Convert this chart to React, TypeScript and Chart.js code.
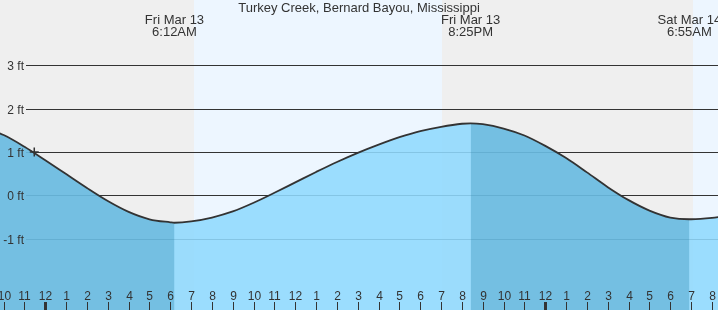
import React, { useEffect, useRef } from 'react';
import { Chart, registerables } from 'chart.js';

Chart.register(...registerables);

// Hours counted from Fri Mar 13, 00:00 (negative = Thu Mar 12 evening)
const tideHours = [-3, -2, -1, 0, 1, 2, 3, 4, 5, 6, 6.2, 7, 8, 9, 10, 11, 12, 13, 14, 15, 16, 17, 18, 19, 20, 20.417, 21, 22, 23, 24, 25, 26, 27, 28, 29, 30, 30.917, 31, 32, 33];
const tideFeet = [1.57, 1.39, 1.12, 0.81, 0.49, 0.17, -0.13, -0.38, -0.55, -0.62, -0.63, -0.6, -0.51, -0.37, -0.17, 0.06, 0.3, 0.54, 0.77, 0.98, 1.17, 1.34, 1.48, 1.58, 1.65, 1.66, 1.64, 1.54, 1.38, 1.14, 0.86, 0.53, 0.19, -0.11, -0.35, -0.51, -0.55, -0.55, -0.52, -0.45];

const extremeHours = [6.2, 20.417, 30.917];
const extremeDays = ['Fri Mar 13', 'Fri Mar 13', 'Sat Mar 14'];
const extremeTimes = ['6:12AM', '8:25PM', '6:55AM'];

const nowHour = [-0.53];
const nowFeet = [1.0];

const nightStart = [-3, 19.05];
const nightEnd = [7.13, 31.1];

const feetTicks = [-1, 0, 1, 2, 3];
const feetLabels = ['-1 ft', '0 ft', '1 ft', '2 ft', '3 ft'];

const title = 'Turkey Creek, Bernard Bayou, Mississippi';

const X_MIN = -2.175;
const X_MAX = 32.29;
const Y_MIN = -2.64;
const Y_MAX = 4.5;

const FONT = '"Liberation Sans", Arial, sans-serif';
const TEXT = '#333333';
const NIGHT_BG = '#EFEFEF';
const DAY_BG = '#EDF6FF';
const RISE_FILL = 'rgba(143,217,254,0.88)';
const FALL_OVERLAY = 'rgba(28,127,167,0.3)';
const CLEAR = 'rgba(0,0,0,0)';

const hourLabel = (h: number) => {
  const m = ((h % 12) + 12) % 12;
  return String(m === 0 ? 12 : m);
};

const decor = {
  id: 'tideDecor',
  beforeDraw(chart: any) {
    const { ctx, chartArea: a, scales } = chart;
    const x = scales.x;
    const y = scales.y;
    ctx.save();
    ctx.fillStyle = DAY_BG;
    ctx.fillRect(a.left, a.top, a.width, a.height);
    ctx.fillStyle = NIGHT_BG;
    for (let i = 0; i < nightStart.length; i++) {
      const x0 = Math.max(a.left, Math.round(x.getPixelForValue(nightStart[i])));
      const x1 = Math.min(a.right, Math.round(x.getPixelForValue(nightEnd[i])));
      ctx.fillRect(x0, a.top, x1 - x0, a.height);
    }
    ctx.strokeStyle = '#333333';
    ctx.lineWidth = 1;
    for (const v of feetTicks) {
      const py = Math.round(y.getPixelForValue(v)) + 0.5;
      ctx.beginPath();
      ctx.moveTo(a.left + 26, py);
      ctx.lineTo(a.right, py);
      ctx.stroke();
    }
    ctx.restore();
  },
  afterDatasetsDraw(chart: any) {
    const { ctx, chartArea: a, scales, width } = chart;
    const x = scales.x;
    const y = scales.y;
    ctx.save();
    ctx.fillStyle = TEXT;
    ctx.font = `12px ${FONT}`;
    ctx.textAlign = 'right';
    ctx.textBaseline = 'alphabetic';
    feetTicks.forEach((v, i) => {
      const py = Math.round(y.getPixelForValue(v));
      ctx.fillText(feetLabels[i], a.left + 24, py + 4.5);
    });
    ctx.textAlign = 'center';
    for (let h = Math.ceil(X_MIN); h <= Math.floor(X_MAX); h++) {
      const px = Math.round(x.getPixelForValue(h));
      if (h % 24 === 0) ctx.fillRect(px - 1, a.bottom - 8, 3, 8);
      else ctx.fillRect(px, a.bottom - 8, 1, 8);
      ctx.fillText(hourLabel(h), px + 0.5, a.bottom - 10);
    }
    ctx.font = `13px ${FONT}`;
    extremeHours.forEach((h, i) => {
      const px = x.getPixelForValue(h);
      ctx.fillText(extremeDays[i], px, 24);
      ctx.fillText(extremeTimes[i], px, 36);
    });
    ctx.fillText(title, width / 2, 12);
    ctx.restore();
  },
};

export default function App() {
  const ref = useRef<HTMLCanvasElement>(null);
  useEffect(() => {
    document.body.style.margin = '0';
    const tidePoints = tideHours.map((h, i) => ({ x: h, y: tideFeet[i] }));
    const nowPoints = nowHour.map((h, i) => ({ x: h, y: nowFeet[i] }));
    const chart = new Chart(ref.current as HTMLCanvasElement, {
      type: 'line',
      data: {
        datasets: [
          {
            // falling-tide shading, drawn over the base fill
            data: tidePoints,
            order: -1,
            borderWidth: 0,
            borderColor: CLEAR,
            pointRadius: 0,
            cubicInterpolationMode: 'monotone',
            fill: 'start',
            backgroundColor: CLEAR,
            segment: {
              backgroundColor: (c: any) => (c.p1.parsed.y < c.p0.parsed.y ? FALL_OVERLAY : CLEAR),
            },
          } as any,
          {
            data: nowPoints,
            order: 0,
            showLine: false,
            pointStyle: 'cross',
            pointRadius: 4.5,
            pointBorderColor: '#333333',
            pointBorderWidth: 1.5,
            borderColor: '#333333',
            fill: false,
          } as any,
          {
            data: tidePoints,
            order: 1,
            borderColor: '#333333',
            borderWidth: 1.8,
            pointRadius: 0,
            cubicInterpolationMode: 'monotone',
            fill: 'start',
            backgroundColor: RISE_FILL,
          } as any,
        ],
      },
      options: {
        responsive: false,
        animation: false,
        layout: { padding: 0, autoPadding: false },
        plugins: {
          legend: { display: false },
          tooltip: { enabled: false },
          title: { display: false },
          filler: { drawTime: 'beforeDatasetsDraw' },
        } as any,
        events: [],
        scales: {
          x: { type: 'linear', min: X_MIN, max: X_MAX, display: false },
          y: { type: 'linear', min: Y_MIN, max: Y_MAX, display: false },
        },
      },
      plugins: [decor],
    });
    return () => chart.destroy();
  }, []);
  return (
    <div style={{ position: 'fixed', left: 0, top: 0, width: 718, height: 310 }}>
      <style>{'html,body{margin:0;padding:0;overflow:hidden;}'}</style>
      <canvas ref={ref} width={718} height={310} style={{ display: 'block' }} />
    </div>
  );
}
